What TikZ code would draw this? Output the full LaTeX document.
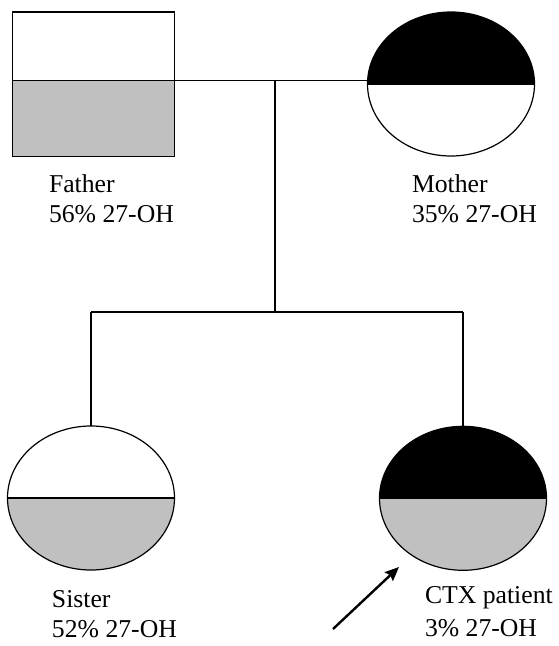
\documentclass[tikz,border=0pt]{standalone}
\usepackage{fontspec}
\setmainfont{Liberation Serif}
\usetikzlibrary{shapes.geometric,arrows.meta}
\definecolor{silver}{HTML}{C0C0C0}
\begin{document}
\begin{tikzpicture}[x=1pt,y=-1pt,
  person/.style={ellipse,draw,line width=1.2pt,minimum width=167pt,minimum height=144pt,inner sep=0pt,outer sep=0pt},
  tophalf/.style={path picture={\fill[#1] (path picture bounding box.north west) rectangle (path picture bounding box.east);}},
  bothalf/.style={path picture={\fill[#1] (path picture bounding box.south west) rectangle (path picture bounding box.east);}},
  bothalves/.style 2 args={path picture={\fill[#1] (path picture bounding box.north west) rectangle (path picture bounding box.east);\fill[#2] (path picture bounding box.south west) rectangle (path picture bounding box.east);}},
  lbl/.style={anchor=base west,inner sep=0pt,outer sep=0pt,font=\fontsize{25.7}{30}\selectfont},
  link/.style={line width=1.2pt}]
\useasboundingbox (0,0) rectangle (558,646);
% father
\fill[silver] (12.3,80.3) rectangle (174.7,156.7);
\node[draw,line width=1.2pt,minimum width=162.4pt,minimum height=144.7pt,inner sep=0pt,outer sep=0pt] (father) at (93.5,84.35) {};
\coordinate (fm) at (275,80.3);
\draw[link] (father.west |- fm) -- (father.east |- fm);
% mother
\node[person,tophalf=black] (mother) at (451,84) {};
\draw[link] (mother.west) -- (mother.east);
% sister
\node[person,bothalf=silver] (sister) at (91,498) {};
\draw[link] (sister.west) -- (sister.east);
% patient
\node[person,bothalves={black}{silver}] (patient) at (463,498.3) {};
\draw[link] (patient.west) -- (patient.east);
% connectors
\coordinate (sib) at (275,312);
\draw[link] (father.east |- fm) -- (mother.west |- fm);
\draw[link] (fm) -- (sib);
\draw[link] (sister.north |- sib) -- (patient.north |- sib);
\draw[link] (sister.north |- sib) -- (sister.north);
\draw[link] (patient.north |- sib) -- (patient.north);
% labels
\node[lbl] (fname) at (49,192) {Father};
\node[lbl] (fval) at (49,222) {56\% 27-OH};
\node[lbl] (mname) at (412,192) {Mother};
\node[lbl] (mval) at (412,222) {35\% 27-OH};
\node[lbl] (sname) at (52,607) {Sister};
\node[lbl] (sval) at (52,637) {52\% 27-OH};
\node[lbl] (pname) at (425,603) {CTX patient};
\node[lbl] (pval) at (425,636) {3\% 27-OH};
% arrow
\coordinate (atail) at (333,629);
\coordinate (ahead) at (399,567);
\draw[line width=2.4pt,-{Stealth[length=14pt,width=12pt,inset=2pt]}] (atail) -- (ahead);
\end{tikzpicture}
\end{document}
